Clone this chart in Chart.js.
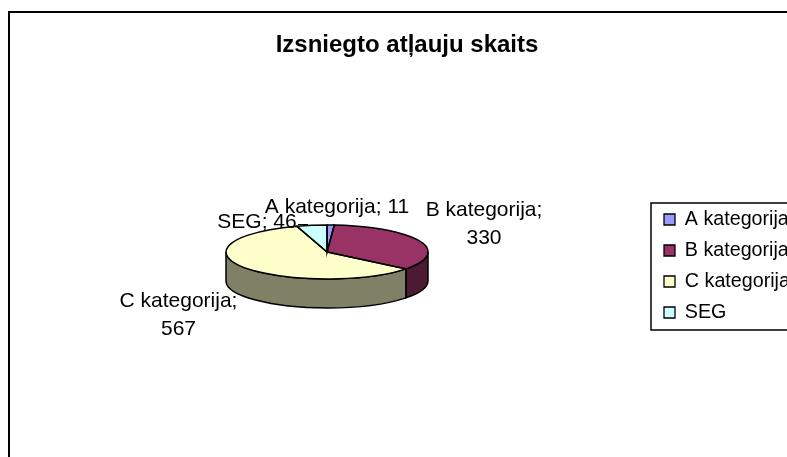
<!DOCTYPE html>
<html>
<head>
<meta charset="utf-8">
<style>
html, body { margin: 0; padding: 0; background: #fff; overflow: hidden; }
#wrap { width: 787px; height: 457px; }
</style>
<script src="https://cdn.jsdelivr.net/npm/chart.js@4/dist/chart.umd.min.js"></script>
</head>
<body>
<div id="wrap"><canvas id="pie" width="787" height="457"></canvas></div>
<script>
var chartTitle = 'Izsniegto atļauju skaits';
var categories = ['A kategorija', 'B kategorija', 'C kategorija', 'SEG'];
var issued = [11, 330, 567, 46];
var topColors = ['#9999FF', '#993366', '#FFFFCC', '#CCFFFF'];
var sideColors = ['#4D4D80', '#4D1A33', '#808066', '#668080'];

var FONT = '"Liberation Sans", Arial, sans-serif';
var FLATTEN = 27 / 101; // how squashed the pie looks
var DEPTH = 29;

// where the value labels go, measured from the pie centre; step = gap to the wrapped value, 0 = one line
var labelSpots = [
	{ dx: 10, dy: -45, step: 0 },
	{ dx: 157, dy: -41.5, step: 28 },
	{ dx: -148.5, dy: 49.7, step: 28 },
	{ dx: -70, dy: -29.3, step: 0 }
];

function tracePie(ctx, el) {
	ctx.beginPath();
	ctx.moveTo(el.x, el.y);
	ctx.arc(el.x, el.y, el.outerRadius, el.startAngle, el.endAngle);
	ctx.closePath();
}

function squash(ctx, el) {
	ctx.translate(el.x, el.y);
	ctx.scale(1, FLATTEN);
	ctx.translate(-el.x, -el.y);
}

// the visible wall of one slice (front half only)
function drawWall(ctx, el, color) {
	var from = Math.max(el.startAngle, 0);
	var to = Math.min(el.endAngle, Math.PI);
	if (to <= from) return;
	var r = el.outerRadius;
	ctx.beginPath();
	ctx.ellipse(el.x, el.y, r, r * FLATTEN, 0, from, to);
	ctx.ellipse(el.x, el.y + DEPTH, r, r * FLATTEN, 0, to, from, true);
	ctx.closePath();
	ctx.fillStyle = color;
	ctx.fill();
	ctx.lineWidth = 1.5;
	ctx.strokeStyle = '#000';
	ctx.stroke();
}

var pie3d = {
	id: 'pie3d',
	afterLayout: function (chart) {
		var t = chart.titleBlock;
		t.left = 9;
		t.right = 805;
		var l = chart.legend;
		l.left = 652.7;
		l.right = 900;
		l.top = 198.35;
		l.bottom = 400;
	},
	beforeDraw: function (chart) {
		var ctx = chart.ctx;
		ctx.save();
		ctx.fillStyle = '#fff';
		ctx.fillRect(0, 0, chart.width, chart.height);
		ctx.lineWidth = 2;
		ctx.strokeStyle = '#000';
		ctx.strokeRect(9, 12, 900, 600);
		ctx.lineWidth = 1.5;
		ctx.strokeRect(651, 203, 300, 127);
		ctx.restore();
	},
	beforeDatasetsDraw: function (chart) {
		var ctx = chart.ctx;
		var arcs = chart.getDatasetMeta(0).data;
		ctx.save();
		arcs.forEach(function (el, i) {
			drawWall(ctx, el, sideColors[i]);
		});
		ctx.restore();
		ctx.save();
		squash(ctx, arcs[0]);
	},
	afterDatasetsDraw: function (chart) {
		var ctx = chart.ctx;
		var arcs = chart.getDatasetMeta(0).data;
		ctx.restore();
		// outline after undoing the squash so the pen stays even
		ctx.save();
		ctx.lineWidth = 1.5;
		ctx.strokeStyle = '#000';
		arcs.forEach(function (el) {
			ctx.save();
			squash(ctx, el);
			tracePie(ctx, el);
			ctx.restore();
			ctx.stroke();
		});
		ctx.restore();

		var cx = arcs[0].x, cy = arcs[0].y;
		ctx.save();
		ctx.fillStyle = '#000';
		ctx.font = '21px ' + FONT;
		ctx.textAlign = 'center';
		ctx.textBaseline = 'middle';
		categories.forEach(function (name, i) {
			var spot = labelSpots[i];
			if (spot.step) {
				ctx.fillText(name + ';', cx + spot.dx, cy + spot.dy);
				ctx.fillText(String(issued[i]), cx + spot.dx, cy + spot.dy + spot.step);
			} else {
				ctx.fillText(name + '; ' + issued[i], cx + spot.dx, cy + spot.dy);
			}
		});
		ctx.restore();
		// leader line for SEG
		ctx.save();
		ctx.lineWidth = 1;
		ctx.strokeStyle = '#000';
		ctx.beginPath();
		ctx.moveTo(cx - 29, cy - 27.5);
		ctx.lineTo(cx - 19, cy - 27.5);
		ctx.stroke();
		ctx.restore();
	}
};

new Chart(document.getElementById('pie'), {
	type: 'pie',
	data: {
		labels: categories,
		datasets: [{
			data: issued,
			backgroundColor: topColors,
			borderWidth: 0
		}]
	},
	plugins: [pie3d],
	options: {
		responsive: false,
		animation: false,
		radius: 101,
		layout: { padding: { left: 100, right: 233, top: 0, bottom: 53 } },
		plugins: {
			tooltip: { enabled: false },
			title: {
				display: true,
				text: chartTitle,
				color: '#000',
				font: { family: FONT, size: 24, weight: 'bold', lineHeight: 1.2 },
				padding: { top: 30.6, bottom: 40.6 }
			},
			legend: {
				position: 'chartArea',
				align: 'start',
				labels: {
					color: '#000',
					font: { family: FONT, size: 19.7 },
					boxWidth: 11,
					boxHeight: 11,
					padding: 11.3,
					generateLabels: function (chart) {
						return categories.map(function (name, i) {
							return { text: name, fillStyle: topColors[i], strokeStyle: '#000', lineWidth: 1.3, index: i };
						});
					}
				}
			}
		}
	}
});
</script>
</body>
</html>
